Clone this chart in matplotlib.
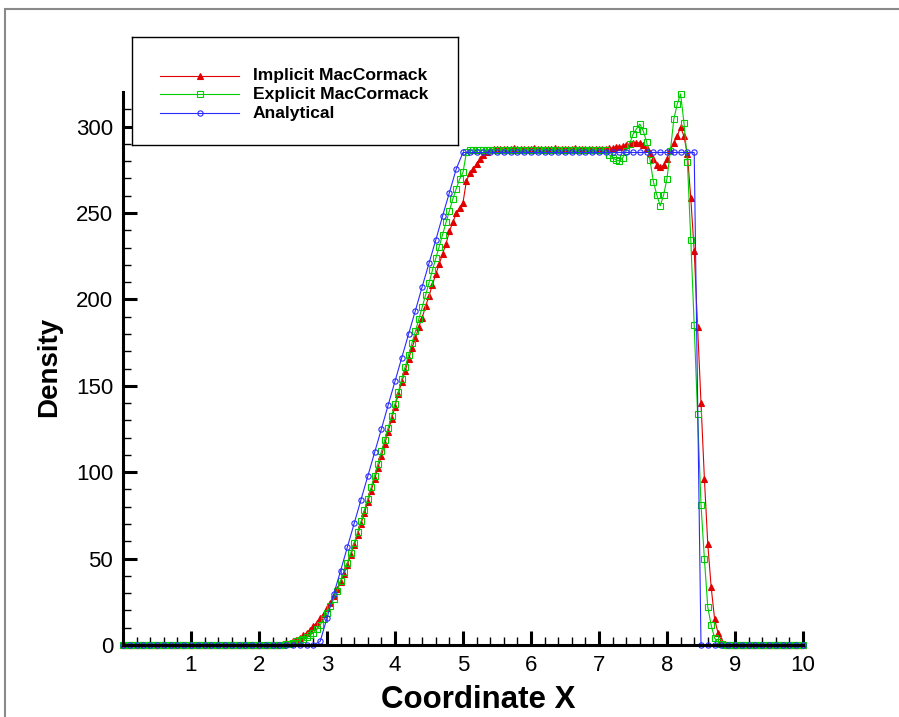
import numpy as np
import matplotlib
matplotlib.use("Agg")
import matplotlib.pyplot as plt
from matplotlib.patches import Rectangle

plt.rcParams["font.family"] = ["Liberation Sans", "DejaVu Sans"]

# grids: schemes on dx=0.05, analytical on dx=0.1
x_num = np.linspace(0.0, 10.0, 201)
x_exact = np.linspace(0.0, 10.0, 101)

implicit = [
    0, 0, 0, 0, 0, 0, 0, 0, 0, 0, 0, 0, 0, 0, 0, 0, 0, 0, 0, 0, 0, 0, 0,
    0, 0, 0, 0, 0, 0, 0, 0, 0, 0, 0, 0, 0, 0, 0, 0, 0, 0, 0, 0, 0, 0, 0,
    0.2, 0.5, 0.9, 1.4, 2.1, 3.0, 4.2, 5.5, 7.0, 8.8, 10.8, 13.0, 15.5, 18.2,
    21.2, 24.5, 28.2, 32.2, 36.6, 41.3, 46.5, 52.0, 57.8, 63.8, 70.0, 76.3,
    82.8, 89.3, 96.0, 102.7, 109.5, 116.5, 123.5, 130.7, 138.0, 145.5, 152.3,
    158.5, 165.5, 172.0, 177.5, 184.0, 189.5, 196.0, 202.0, 208.5, 214.5,
    220.5, 226.5, 232.0, 239.5, 244.5, 250.0, 253.0, 256.0, 268.5, 273.0,
    275.5, 278.5, 281.0, 283.5, 285.3, 286.4, 286.9,
    287.2, 287.3, 287.1, 287.3, 287.2, 287.4, 287.2, 287.3, 287.1, 287.3,
    287.2, 287.4, 287.2, 287.3, 287.1, 287.3, 287.2, 287.4, 287.2, 287.3,
    287.1, 287.3, 287.2, 287.4, 287.2, 287.3, 287.1, 287.3, 287.2, 287.3,
    287.3, 287.3, 287.3, 287.4, 287.6, 287.9, 288.3, 288.8, 289.4, 290.0,
    290.4, 290.7, 290.6, 289.5, 287.5, 284.5, 281.0, 278.0, 276.5, 277.5,
    281.5, 286.5, 290.5, 294.5, 299.7, 294.3, 284.0, 258.4, 228.2, 184.3,
    140.0, 96.2, 58.2, 33.3, 15.0, 7.0, 2.5, 0.8, 0.2,
    0, 0, 0, 0, 0, 0, 0, 0, 0, 0, 0, 0, 0, 0, 0, 0, 0, 0, 0, 0, 0, 0,
]

explicit = [
    0, 0, 0, 0, 0, 0, 0, 0, 0, 0, 0, 0, 0, 0, 0, 0, 0, 0, 0, 0, 0, 0, 0, 0,
    0, 0, 0, 0, 0, 0, 0, 0, 0, 0, 0, 0, 0, 0, 0, 0, 0, 0, 0, 0, 0, 0, 0, 0,
    0.3, 0.8, 1.4, 2.1, 2.9, 3.6, 4.5, 5.7, 7.2, 9.0, 11.7, 14.8, 18.6, 22.6,
    26.8, 31.4, 37.0, 42.0, 47.5, 53.2, 59.2, 65.3, 71.5, 78.0, 84.5, 91.2,
    98.0, 105.0, 112.0, 118.8, 125.8, 132.5, 139.5, 146.5, 154.0, 161.0,
    168.0, 174.8, 181.5, 188.5, 195.5, 202.5, 209.5, 216.8, 223.8, 230.5,
    237.5, 244.5, 251.2, 258.0, 264.0, 269.5, 273.5, 285.0, 286.3,
    286.5, 286.6, 286.5, 286.4, 286.5, 286.6, 286.5, 286.4, 286.5, 286.6,
    286.5, 286.4, 286.5, 286.6, 286.5, 286.4, 286.5, 286.6, 286.5, 286.4,
    286.5, 286.6, 286.5, 286.4, 286.5, 286.6, 286.5, 286.4, 286.5, 286.6,
    286.5, 286.4, 286.5, 286.6, 286.5, 286.4, 286.5, 286.6, 286.5,
    286.3, 283.6, 282.0, 280.7, 280.1, 282.0, 286.0, 290.0, 295.5, 298.6,
    301.5, 297.5, 291.3, 280.7, 268.1, 260.4, 254.1, 260.4, 269.9, 285.9,
    304.2, 312.9, 318.9, 301.9, 279.7, 234.5, 184.9, 133.5, 81.3, 49.7,
    21.8, 11.4, 4.0, 1.6, 0.4,
    0, 0, 0, 0, 0, 0, 0, 0, 0, 0, 0, 0, 0, 0, 0, 0, 0, 0, 0, 0, 0, 0, 0, 0,
]

analytical = [
    0, 0, 0, 0, 0, 0, 0, 0, 0, 0, 0, 0, 0, 0, 0, 0, 0, 0, 0, 0, 0, 0, 0, 0,
    0, 0, 0, 0, 0,
    2.1, 15.6, 29.5, 43.0, 56.7, 70.4, 84.1, 97.7, 111.4, 125.0, 138.9,
    152.6, 166.3, 180.0, 193.5, 207.4, 220.9, 234.4, 248.3, 261.8, 275.4,
    285.0, 285.0, 285.0, 285.0, 285.0, 285.0, 285.0, 285.0, 285.0, 285.0,
    285.0, 285.0, 285.0, 285.0, 285.0, 285.0, 285.0, 285.0, 285.0, 285.0,
    285.0, 285.0, 285.0, 285.0, 285.0, 285.0, 285.0, 285.0, 285.0, 285.0,
    285.0, 285.0, 285.0, 285.0, 285.0,
    0, 0, 0, 0, 0, 0, 0, 0, 0, 0, 0, 0, 0, 0, 0, 0,
]

series = [
    ("Implicit MacCormack", x_num, implicit, "#e00000", "^", "#e00000"),
    ("Explicit MacCormack", x_num, explicit, "#00cc00", "s", "none"),
    ("Analytical", x_exact, analytical, "#2a2aff", "o", "none"),
]

W, H = 899, 717
fig = plt.figure(figsize=(W / 100, H / 100), dpi=100)

# grey page frame (runs off the right/bottom edge)
fig.add_artist(Rectangle((4.5 / W, -0.05), 1.0, (H - 8.5) / H + 0.05,
                         transform=fig.transFigure, fill=False,
                         edgecolor="#8a8a8a", lw=1.5))

ax = fig.add_axes([123 / W, 1 - 645 / H, 680 / W, 553 / H])
for label, xs, ys, col, mk, mfc in series:
    ax.plot(xs, ys, color=col, lw=0.8, marker=mk, ms=3.8, mfc=mfc,
            mec=col, mew=0.8, clip_on=False)

ax.set_xlim(0, 10)
ax.set_ylim(0, 320)
for side in ("top", "right"):
    ax.spines[side].set_visible(False)
for side in ("left", "bottom"):
    ax.spines[side].set_linewidth(2.2)
ax.spines["left"].set_bounds(0, 320)

ax.set_xticks(range(1, 11))
ax.set_xticks(np.arange(0.2, 10.0, 0.2), minor=True)
ax.set_yticks(range(0, 301, 50))
ax.set_yticks(np.arange(10, 311, 10), minor=True)
ax.tick_params(which="major", direction="in", length=10, width=2.2,
               labelsize=16, pad=7)
ax.tick_params(which="minor", direction="in", length=6, width=1.0)

ax.set_xlabel("Coordinate X", fontsize=22.5, fontweight="bold")
ax.xaxis.set_label_coords(0.522, -0.072)
ax.set_ylabel("Density", fontsize=20, fontweight="bold")
ax.yaxis.set_label_coords(-0.09, 0.503)

# legend box drawn in pixel units
leg = fig.add_axes([131.5 / W, 1 - 145 / H, 326 / W, 108 / H])
leg.set_xlim(0, 326)
leg.set_ylim(108, 0)
leg.set_xticks([])
leg.set_yticks([])
for sp in leg.spines.values():
    sp.set_linewidth(1.0)
rows = [38.7, 57.3, 76.3]
for (label, xs, ys, col, mk, mfc), yr in zip(series, rows):
    leg.plot([28.5, 107.5], [yr, yr], color=col, lw=0.8)
    leg.plot([68], [yr], marker=mk, ms=3.8, mfc=mfc, mec=col, mew=0.8,
             color=col)
    leg.text(121.5, yr, label, fontsize=12.6, fontweight="bold",
             va="center", ha="left")

fig.savefig("out.png", dpi=100)
